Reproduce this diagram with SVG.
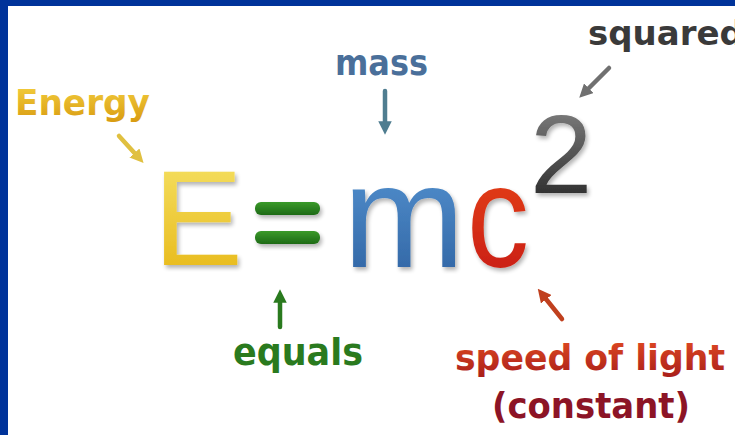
<svg xmlns="http://www.w3.org/2000/svg" width="735" height="435" viewBox="0 0 735 435">
<defs>
<style>
.lbl{font-family:"DejaVu Sans","Liberation Sans",sans-serif;font-weight:bold}
.big{font-family:"Liberation Sans","Open Sans",sans-serif}
.conn{fill:none;stroke-width:4.5;stroke-linecap:round}
</style>
<linearGradient id="gE" x1="0" y1="0" x2="0" y2="1"><stop offset="0" stop-color="#f6e46a"/><stop offset="1" stop-color="#e6b410"/></linearGradient>
<linearGradient id="gM" x1="0" y1="0" x2="0" y2="1"><stop offset="0" stop-color="#5a9ad8"/><stop offset="1" stop-color="#2c5f9e"/></linearGradient>
<linearGradient id="gC" x1="0" y1="0" x2="0" y2="1"><stop offset="0" stop-color="#ec4a1a"/><stop offset="1" stop-color="#c41812"/></linearGradient>
<linearGradient id="g2" x1="0" y1="0" x2="0" y2="1"><stop offset="0" stop-color="#8a8a8a"/><stop offset="1" stop-color="#1e1e1e"/></linearGradient>
<linearGradient id="gEq" x1="0" y1="0" x2="0" y2="1"><stop offset="0" stop-color="#3a9a2a"/><stop offset="1" stop-color="#1e6a16"/></linearGradient>
<linearGradient id="gEn" x1="0" y1="0" x2="0" y2="1"><stop offset="0" stop-color="#f4d040"/><stop offset="1" stop-color="#d89a10"/></linearGradient>
<linearGradient id="gSp" x1="0" y1="0" x2="0" y2="1"><stop offset="0" stop-color="#e04a22"/><stop offset="1" stop-color="#a81e1a"/></linearGradient>
<filter id="sh" x="-10%" y="-10%" width="130%" height="130%"><feGaussianBlur in="SourceAlpha" stdDeviation="2"/><feOffset dx="2" dy="3"/><feComponentTransfer><feFuncA type="linear" slope="0.3"/></feComponentTransfer><feMerge><feMergeNode/><feMergeNode in="SourceGraphic"/></feMerge></filter>
<marker id="aY" viewBox="0 0 10 10" refX="5" refY="5" markerWidth="3" markerHeight="3" orient="auto"><path d="M0,0 L10,5 L0,10 z" fill="#e0c040"/></marker>
<marker id="aB" viewBox="0 0 10 10" refX="5" refY="5" markerWidth="3" markerHeight="3" orient="auto"><path d="M0,0 L10,5 L0,10 z" fill="#4f7d90"/></marker>
<marker id="aK" viewBox="0 0 10 10" refX="5" refY="5" markerWidth="3" markerHeight="3" orient="auto"><path d="M0,0 L10,5 L0,10 z" fill="#707070"/></marker>
<marker id="aG" viewBox="0 0 10 10" refX="5" refY="5" markerWidth="3" markerHeight="3" orient="auto"><path d="M0,0 L10,5 L0,10 z" fill="#2a7a1e"/></marker>
<marker id="aR" viewBox="0 0 10 10" refX="5" refY="5" markerWidth="3" markerHeight="3" orient="auto"><path d="M0,0 L10,5 L0,10 z" fill="#c0401e"/></marker>
</defs>
<rect x="0" y="0" width="735" height="435" fill="#ffffff"/>
<rect x="0" y="0" width="735" height="6" fill="#00339a"/>
<rect x="0" y="0" width="8" height="435" fill="#00339a"/>

<g id="E" filter="url(#sh)"><text class="big" x="153" y="265" font-size="135" fill="url(#gE)">E</text></g>
<g id="equalsSign" filter="url(#sh)">
<rect x="255" y="202" width="65" height="13" rx="6" fill="url(#gEq)"/>
<rect x="255" y="231" width="65" height="13" rx="6" fill="url(#gEq)"/>
</g>
<g id="m" filter="url(#sh)"><text class="big" x="343" y="267" font-size="146" fill="url(#gM)">m</text></g>
<g id="c" filter="url(#sh)"><text class="big" x="467" y="267" font-size="146" textLength="62" lengthAdjust="spacingAndGlyphs" fill="url(#gC)">c</text></g>
<g id="two" filter="url(#sh)"><text class="big" x="530" y="193" font-size="112" fill="url(#g2)">2</text></g>

<g id="energy"><text class="lbl" x="15" y="115" font-size="35" textLength="135" lengthAdjust="spacingAndGlyphs" fill="url(#gEn)">Energy</text></g>
<g id="mass"><text class="lbl" x="335" y="75" font-size="36" textLength="93" lengthAdjust="spacingAndGlyphs" fill="#4a6f9a">mass</text></g>
<g id="squared"><text class="lbl" x="588" y="45" font-size="34" fill="#3a3a3a">squared</text></g>
<g id="equals"><text class="lbl" x="233" y="365" font-size="38" textLength="130" lengthAdjust="spacingAndGlyphs" fill="#2a7a1e">equals</text></g>
<g id="speed">
<text class="lbl" x="455" y="370" font-size="35" textLength="270" lengthAdjust="spacingAndGlyphs" fill="url(#gSp)">speed of light</text>
<text class="lbl" x="492" y="418" font-size="36" textLength="198" lengthAdjust="spacingAndGlyphs" fill="#8c1426">(constant)</text>
</g>

<g id="connectors">
<path class="conn" d="M119,136 L139,158" stroke="#e0c040" marker-end="url(#aY)"/>
<path class="conn" d="M385,91 L385,128" stroke="#4f7d90" marker-end="url(#aB)"/>
<path class="conn" d="M609,68 L584,93" stroke="#707070" marker-end="url(#aK)"/>
<path class="conn" d="M280,327 L280,296" stroke="#2a7a1e" marker-end="url(#aG)"/>
<path class="conn" d="M562,319 L542,294" stroke="#c0401e" marker-end="url(#aR)"/>
</g>
</svg>
